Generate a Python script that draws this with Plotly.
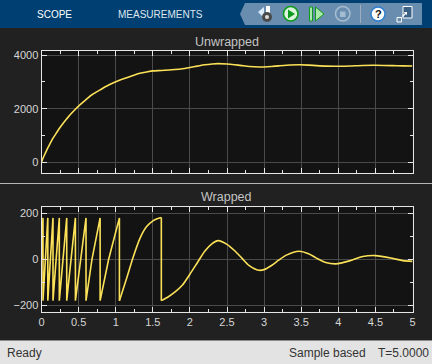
import plotly.graph_objects as go

t_un = [0,0.02,0.055,0.085,0.12,0.155,0.198,0.24,0.287,0.34,0.395,0.457,0.525,0.6,0.68,0.79,0.905,1.05,1.237,1.327,1.417,1.507,1.615,1.8,1.9,2.0,2.1,2.2,2.3,2.38,2.5,2.6,2.7,2.8,2.93,3.0,3.1,3.2,3.3,3.47,3.6,3.7,3.83,3.97,4.15,4.33,4.5,4.73,4.87,5.0]
y_un = [0,150,360,540,720,900,1080,1260,1440,1620,1800,1980,2160,2340,2520,2700,2880,3060,3240,3320,3370,3408,3422,3458,3488,3535,3585,3635,3668,3681,3665,3638,3605,3572,3552,3555,3573,3597,3618,3635,3624,3606,3586,3580,3593,3612,3616,3604,3594,3591]
t_teeth = [0,0.02,0.02,0.055,0.085,0.085,0.12,0.155,0.155,0.198,0.24,0.24,0.287,0.34,0.34,0.395,0.457,0.457,0.525,0.6,0.6,0.68,0.79,0.79,0.905,1.05,1.05]
y_teeth = [0,180,-180,0,180,-180,0,180,-180,0,180,-180,0,180,-180,0,180,-180,0,180,-180,0,180,-180,0,180,-180]
t_rise = [1.05,1.14,1.237,1.327,1.417,1.507,1.56,1.615,1.615]
y_rise = [-180,-90,11,91,142,168,176,182,-180]
t_decay = [1.615,1.7,1.8,1.9,2.0,2.1,2.2,2.3,2.38,2.5,2.6,2.7,2.8,2.93,3.0,3.1,3.2,3.3,3.47,3.6,3.7,3.83,3.97,4.15,4.33,4.5,4.73,4.87,5.0]
y_decay = [-180,-165,-142,-112,-65,-15,35,68,81,65,38,5,-28,-48,-45,-27,-3,18,35,24,6,-14,-20,-7,12,16,4,-6,-9]
x_ticks = [0,0.5,1,1.5,2,2.5,3,3.5,4,4.5,5]
x_labels = ["0","0.5","1","1.5","2","2.5","3","3.5","4","4.5","5"]
y1_ticks = [0,2000,4000]
y2_ticks = [-200,0,200]
W,H = 432,364
L,R = 41.5,412.5
BG="#212121"; PLOT="#131313"; LINE="#FBE157"; GRID="#4A4A4A"; FRAME="#E6E6E6"; TXT="#D6D6D6"
FONT="Liberation Sans"
fig = go.Figure()
sp=dict(color=LINE,width=1.6,shape="spline",smoothing=0.7)
st=dict(color=LINE,width=1.6)
fig.add_trace(go.Scatter(x=t_un,y=y_un,mode="lines",line=sp,xaxis="x",yaxis="y",showlegend=False,hoverinfo="skip"))
fig.add_trace(go.Scatter(x=t_teeth,y=y_teeth,mode="lines",line=st,xaxis="x2",yaxis="y2",showlegend=False,hoverinfo="skip"))
fig.add_trace(go.Scatter(x=t_rise[:-1],y=y_rise[:-1],mode="lines",line=sp,xaxis="x2",yaxis="y2",showlegend=False,hoverinfo="skip"))
fig.add_trace(go.Scatter(x=t_rise[-2:],y=y_rise[-2:],mode="lines",line=st,xaxis="x2",yaxis="y2",showlegend=False,hoverinfo="skip"))
fig.add_trace(go.Scatter(x=t_decay,y=y_decay,mode="lines",line=sp,xaxis="x2",yaxis="y2",showlegend=False,hoverinfo="skip"))
def dom(a,b): return [1-b/H,1-a/H]
ax=dict(range=[0,5],tickvals=x_ticks,gridcolor=GRID,gridwidth=1,showline=True,mirror="ticks",linecolor=FRAME,linewidth=1,zeroline=False,
        tickcolor=FRAME,ticklen=5,ticks="inside",tickfont=dict(family=FONT,size=11,color=TXT),domain=[L/W,R/W],
        minor=dict(dtick=0.25,ticks="inside",ticklen=3,tickcolor=FRAME,showgrid=False))
ay=dict(gridcolor=GRID,showline=True,mirror="ticks",linecolor=FRAME,zeroline=False,ticks="inside",ticklen=5,tickcolor=FRAME,tickfont=dict(family=FONT,size=11,color=TXT))
fig.update_layout(width=W,height=H,margin=dict(l=0,r=0,t=0,b=0,autoexpand=False),paper_bgcolor=BG,plot_bgcolor=PLOT,
    xaxis={**ax,"showticklabels":False,"anchor":"y"},
    xaxis2={**ax,"ticktext":x_labels,"anchor":"y2"},
    yaxis=dict(domain=dom(51,173.3),range=[-410,4150],tickvals=y1_ticks,minor=dict(dtick=1000,ticks="inside",ticklen=3,tickcolor=FRAME),anchor="x",**ay),
    yaxis2=dict(domain=dom(207.3,311.7),range=[-228,226],tickvals=y2_ticks,minor=dict(dtick=100,ticks="inside",ticklen=3,tickcolor=FRAME),anchor="x2",**ay),
)
def rect(x0,y0,x1,y1,fill,lc=None,lw=0,layer="above",kind="rect"):
    fig.add_shape(type=kind,xref="paper",yref="paper",x0=x0/W,x1=x1/W,y0=1-y0/H,y1=1-y1/H,fillcolor=fill,line=dict(color=lc or fill,width=lw),layer=layer)
def path(pts,fill,lc=None,lw=0):
    d="M"+" L".join(f"{x/W:.5f},{1-y/H:.5f}" for x,y in pts)+" Z"
    fig.add_shape(type="path",xref="paper",yref="paper",path=d,fillcolor=fill,line=dict(color=lc or fill,width=lw),layer="above")
def text(x,y,s,size,color,anchor="left"):
    fig.add_annotation(xref="paper",yref="paper",x=x/W,y=1-y/H,text=s,showarrow=False,xanchor=anchor,yanchor="middle",font=dict(family=FONT,size=size,color=color),borderpad=0,borderwidth=0)
rect(0,0,W,28,"#003F72")
path([(240,14),(245,3),(422,3),(422,25),(245,25)],"#688DAE")
rect(0,183,W,184,"#B5B5B5")
rect(0,341,W,364,"#E3E3E3")
rect(0,340,W,341,"#8A8A8A")
# toolbar icons
path([(258,12),(264,7),(264,18)],"#DCEBFA")
rect(266,6,270,14,"#FFFFFF")
rect(262,12,272,22,"#4A4A4A",kind="circle")
rect(265,15,269,19,"#E0E0E0",kind="circle")
rect(283.5,6.5,298,21,"#DDF5DD","#0E9A1E",1.5,kind="circle")
path([(288,9.5),(295,14),(288,18.5)],"#0E9A1E")
rect(309.5,7,312.5,21,"#A8E8A8","#0E9A1E",1)
path([(315.5,7),(324,14),(315.5,21)],"#A8E8A8","#0E9A1E",1)
rect(335.5,6.5,350,21,"#688DAE","#A5BCD0",1.5,kind="circle")
rect(340,11.5,345.5,17,"#A5BCD0")
rect(360,5,361,23,"#9DAFBF")
rect(371,7,385,21,"#FFFFFF","#2F7FD0",1.5,kind="circle")
text(378,14,"<b>?</b>",11,"#111111","center")
rect(403,6.5,412,18,"#3B6285","#FFFFFF",1)
rect(397,17.5,401.5,22,"#688DAE","#FFFFFF",1)
path([(402,16),(405,13),(403.5,12),(407,12),(407,15.5),(406,14),(403,17)],"#FFFFFF")
text(37,15,"SCOPE",10,"#FFFFFF")
text(118,15,"MEASUREMENTS",10,"#DDE6EE")
text(226.7,41.5,"Unwrapped",12.5,"#C4C4C4","center")
text(226.7,197.5,"Wrapped",12.5,"#C4C4C4","center")
text(7,352.5,"Ready",12,"#333333")
text(289,352.5,"Sample based",12,"#333333")
text(378,352.5,"T=5.0000",12,"#333333")
fig.write_html("out.html",config=dict(displayModeBar=False),post_script="document.documentElement.style.overflow='hidden';document.body.style.margin='0';")
